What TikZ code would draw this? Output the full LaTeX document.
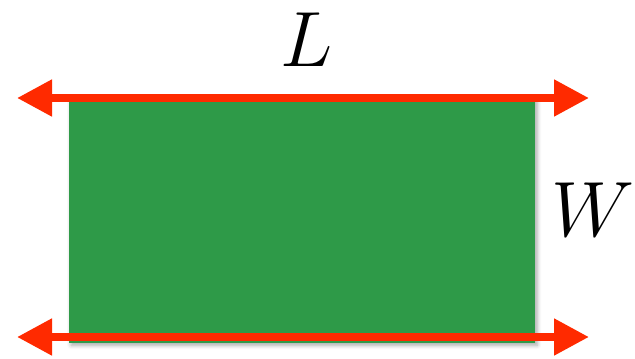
\documentclass[tikz,border=0pt]{standalone}
\usetikzlibrary{arrows.meta,shadows.blur}
\definecolor{felt}{HTML}{2E9A48}
\definecolor{arrred}{HTML}{FF2A00}
\begin{document}
\begin{tikzpicture}[x=1pt,y=-1pt,
  dimarrow/.style={draw=arrred,line width=8pt,{Triangle[length=35pt,width=35pt]}-{Triangle[length=35pt,width=35pt]}},
  lbl/.style={inner sep=0pt,font=\Huge,scale=3.15}]
\useasboundingbox (0,0) rectangle (635,359);
\node[fill=felt,minimum width=466pt,minimum height=246pt,inner sep=0pt,anchor=north west,
  blur shadow={shadow xshift=2pt,shadow yshift=-2pt,shadow blur radius=4pt,shadow opacity=35}] (rect) at (69,97) {};
\coordinate (tl) at (17,98);
\coordinate (tr) at (589,98);
\coordinate (bl) at (17,337);
\coordinate (br) at (589,337);
\draw[dimarrow] (tl) -- (tr);
\draw[dimarrow] (bl) -- (br);
\node[lbl] (L) at (307,40) {$L$};
\node[lbl] (W) at (593,210) {$W$};
\end{tikzpicture}
\end{document}
